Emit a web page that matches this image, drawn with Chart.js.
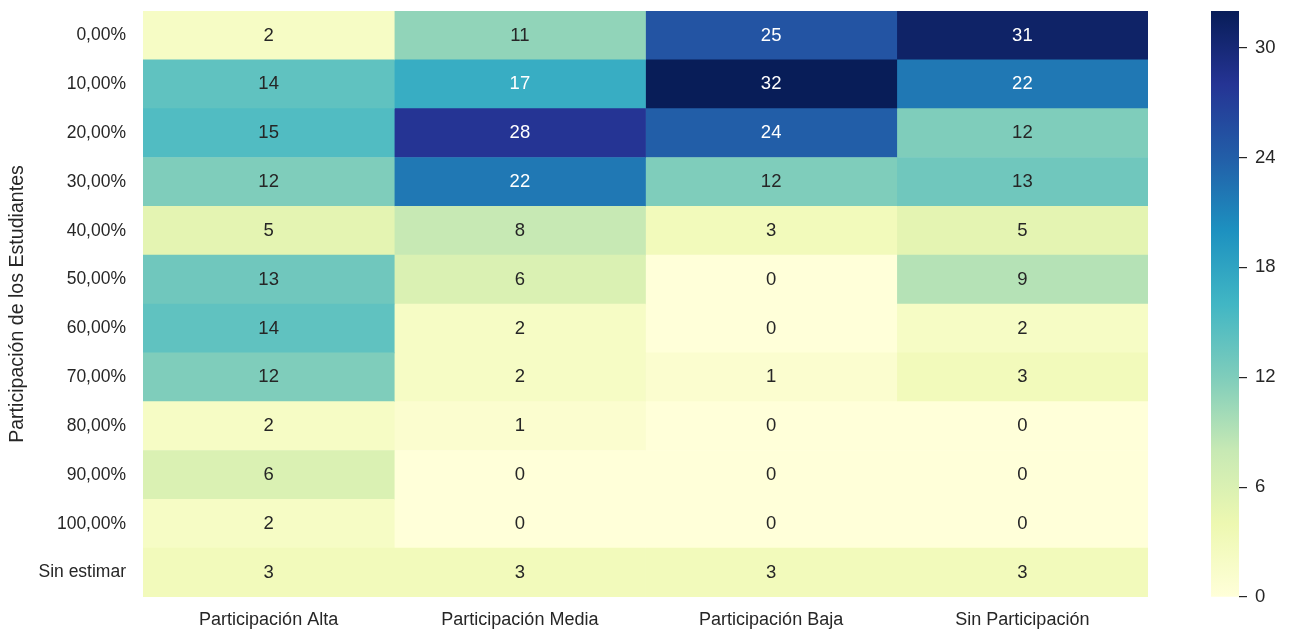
<!DOCTYPE html>
<html>
<head>
<meta charset="utf-8">
<script src="https://cdn.jsdelivr.net/npm/chart.js@4.4.1/dist/chart.umd.min.js"></script>
<style>
  html, body { margin: 0; padding: 0; background: #ffffff; }
  #wrap { position: relative; width: 1290px; height: 630px; }
  #main { position: absolute; left: 0; top: 0; }
  #cbar { position: absolute; left: 1180px; top: 0; }
</style>
</head>
<body>
<div id="wrap">
  <canvas id="main" width="1180" height="630"></canvas>
  <canvas id="cbar" width="110" height="630"></canvas>
</div>
<script>
// ---- data ----
const rowLabels = ['0,00%', '10,00%', '20,00%', '30,00%', '40,00%', '50,00%', '60,00%', '70,00%', '80,00%', '90,00%', '100,00%', 'Sin estimar'];
const colLabels = ['Participación Alta', 'Participación Media', 'Participación Baja', 'Sin Participación'];
const altaValues  = [2, 14, 15, 12, 5, 13, 14, 12, 2, 6, 2, 3];
const mediaValues = [11, 17, 28, 22, 8, 6, 2, 2, 1, 0, 0, 3];
const bajaValues  = [25, 32, 24, 12, 3, 0, 0, 1, 0, 0, 0, 3];
const sinValues   = [31, 22, 12, 13, 5, 9, 2, 3, 0, 0, 0, 3];
const columnValues = [altaValues, mediaValues, bajaValues, sinValues];
const colorMin = 0;
const colorMax = 32;
const colorbarTicks = [0, 6, 12, 18, 24, 30];
const yTitle = 'Participación de los Estudiantes';

// ---- YlGnBu colormap ----
const ylgnbu = ['#ffffd9', '#edf8b1', '#c7e9b4', '#7fcdbb', '#41b6c4', '#1d91c0', '#225ea8', '#253494', '#081d58'];
function hexToRgb(h) { return [parseInt(h.slice(1,3),16), parseInt(h.slice(3,5),16), parseInt(h.slice(5,7),16)]; }
const stopsRgb = ylgnbu.map(hexToRgb);
function cmapRgb(v) {
  let t = (v - colorMin) / (colorMax - colorMin);
  t = Math.max(0, Math.min(1, t));
  const pos = t * (stopsRgb.length - 1);
  const i = Math.min(Math.floor(pos), stopsRgb.length - 2);
  const f = pos - i;
  const a = stopsRgb[i], b = stopsRgb[i + 1];
  return [0,1,2].map(k => Math.round(a[k] + (b[k] - a[k]) * f));
}
function cmap(v) { const c = cmapRgb(v); return `rgb(${c[0]},${c[1]},${c[2]})`; }
function luminance(rgb) {
  const lin = rgb.map(c => { c = c / 255; return c <= 0.03928 ? c / 12.92 : Math.pow((c + 0.055) / 1.055, 2.4); });
  return 0.2126 * lin[0] + 0.7152 * lin[1] + 0.0722 * lin[2];
}

const FONT = '"Liberation Sans", Arial, Helvetica, sans-serif';
const TEXT = '#262626';
const FS_Y = 17.5;
const FS_X = 18;
const FS_ANN = 18.5;
const FS_CB = 18.5;
const FS_TITLE = 19.6;

// ---- main heatmap ----
const datasets = colLabels.map((name, c) => ({
  label: name,
  data: rowLabels.map(() => [c, c + 1]),
  values: columnValues[c],
  backgroundColor: columnValues[c].map(v => cmap(v)),
  borderWidth: 0,
  barPercentage: 1.0,
  categoryPercentage: 1.0,
  grouped: false
}));

const annotatePlugin = {
  id: 'annotate',
  afterDatasetsDraw(chart) {
    const ctx = chart.ctx;
    ctx.save();
    ctx.font = `${FS_ANN}px ${FONT}`;
    ctx.textAlign = 'center';
    ctx.textBaseline = 'middle';
    chart.data.datasets.forEach((ds, di) => {
      const meta = chart.getDatasetMeta(di);
      meta.data.forEach((el, i) => {
        const p = el.getProps(['x', 'y', 'base'], true);
        const v = ds.values[i];
        ctx.fillStyle = luminance(cmapRgb(v)) < 0.408 ? '#ffffff' : TEXT;
        ctx.fillText(String(v), (p.x + p.base) / 2, p.y);
      });
    });
    ctx.restore();
  }
};

new Chart(document.getElementById('main'), {
  type: 'bar',
  data: { labels: rowLabels, datasets },
  plugins: [annotatePlugin],
  options: {
    indexAxis: 'y',
    responsive: false,
    animation: false,
    events: [],
    layout: { padding: { top: 11, right: 32, left: 0, bottom: 0 } },
    plugins: { legend: { display: false }, tooltip: { enabled: false } },
    scales: {
      x: {
        type: 'linear',
        min: 0,
        max: colLabels.length,
        grid: { display: false, drawTicks: false },
        border: { display: false },
        afterBuildTicks: (scale) => { scale.ticks = colLabels.map((_, i) => ({ value: i + 0.5 })); },
        afterFit: (scale) => { scale.height = 33; scale.paddingLeft = 0; scale.paddingRight = 0; },
        ticks: {
          autoSkip: false,
          maxRotation: 0,
          padding: 12,
          color: TEXT,
          font: { family: FONT, size: FS_X },
          callback: (v) => colLabels[Math.floor(v)]
        }
      },
      y: {
        type: 'category',
        grid: { display: false, drawTicks: false },
        border: { display: false },
        afterFit: (scale) => { scale.width = 143; scale.paddingTop = 0; scale.paddingBottom = 0; },
        ticks: {
          padding: 17,
          color: TEXT,
          font: { family: FONT, size: FS_Y }
        },
        title: {
          display: true,
          text: yTitle,
          color: TEXT,
          font: { family: FONT, size: FS_TITLE },
          padding: { top: 6, bottom: 0 }
        }
      }
    }
  }
});

// ---- colorbar ----
new Chart(document.getElementById('cbar'), {
  type: 'bar',
  data: {
    labels: [''],
    datasets: [{
      data: [[colorMin, colorMax]],
      borderWidth: 0,
      barPercentage: 1.0,
      categoryPercentage: 1.0,
      backgroundColor: (context) => {
        const chart = context.chart;
        const area = chart.chartArea;
        if (!area) return ylgnbu[0];
        const ys = chart.scales.y;
        const g = chart.ctx.createLinearGradient(0, ys.getPixelForValue(colorMin), 0, ys.getPixelForValue(colorMax));
        ylgnbu.forEach((c, k) => g.addColorStop(k / (ylgnbu.length - 1), c));
        return g;
      }
    }]
  },
  options: {
    responsive: false,
    animation: false,
    events: [],
    layout: { padding: { top: 11, bottom: 33, left: 31, right: 0 } },
    plugins: { legend: { display: false }, tooltip: { enabled: false } },
    scales: {
      x: { display: false },
      y: {
        type: 'linear',
        position: 'right',
        min: colorMin,
        max: colorMax,
        afterBuildTicks: (scale) => { scale.ticks = colorbarTicks.map(v => ({ value: v })); },
        afterFit: (scale) => { scale.width = 51; scale.paddingTop = 0; scale.paddingBottom = 0; },
        border: { display: false },
        grid: { drawOnChartArea: false, drawTicks: true, tickLength: 8, color: TEXT, lineWidth: 1.2 },
        ticks: {
          padding: 8,
          color: TEXT,
          font: { family: FONT, size: FS_CB }
        }
      }
    }
  }
});
</script>
</body>
</html>
